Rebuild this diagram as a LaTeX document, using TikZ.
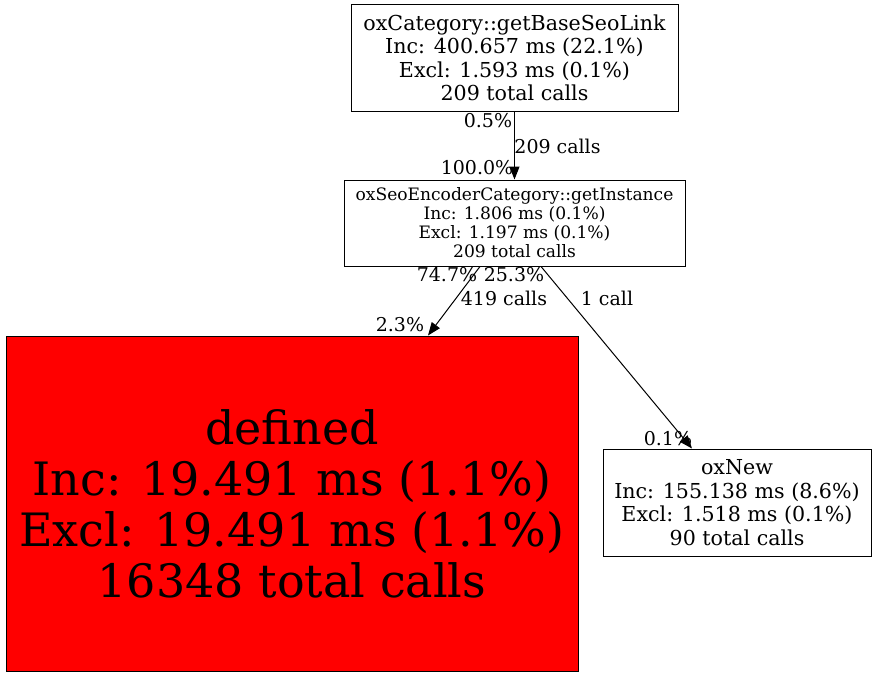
\documentclass[tikz,border=0pt]{standalone}
\usepackage{fontspec}
\newfontfamily\gv{DejaVu Serif}
\usetikzlibrary{arrows.meta}
\tikzset{
  fbox/.style={draw=black, line width=1pt, align=center, inner sep=0pt},
  bigf/.style={font=\gv\fontsize{20.6}{23.5}\selectfont},
  midf/.style={font=\gv\fontsize{17.1}{19}\selectfont},
  hugef/.style={font=\gv\fontsize{46}{51}\selectfont},
  elab/.style={font=\gv\fontsize{19}{23}\selectfont, inner sep=0pt},
  edge/.style={draw=black, line width=1pt, -{Triangle[length=13pt,width=10pt]}}
}
\begin{document}
\begin{tikzpicture}[x=1pt,y=-1pt]
\useasboundingbox (0,0) rectangle (876,677);
\node[fbox, bigf, minimum width=327pt, minimum height=106pt] (top) at (514.5,58)
  {oxCategory::getBaseSeoLink\\Inc: 400.657 ms (22.1\%)\\Excl: 1.593 ms (0.1\%)\\209 total calls};
\node[fbox, midf, minimum width=341pt, minimum height=86pt] (mid) at (514.5,223)
  {oxSeoEncoderCategory::getInstance\\Inc: 1.806 ms (0.1\%)\\Excl: 1.197 ms (0.1\%)\\209 total calls};
\node[fbox, hugef, fill=red, minimum width=572pt, minimum height=335pt] (red) at (292,503.5)
  {defined\\Inc: 19.491 ms (1.1\%)\\Excl: 19.491 ms (1.1\%)\\16348 total calls};
\node[fbox, bigf, minimum width=268pt, minimum height=107pt] (oxnew) at (737,502.5)
  {oxNew\\Inc: 155.138 ms (8.6\%)\\Excl: 1.518 ms (0.1\%)\\90 total calls};
\draw[edge] (top.south) -- (mid.north);
\draw[edge] ([xshift=-34.5pt]mid.south) -- ([xshift=136pt]red.north);
\draw[edge] ([xshift=26.5pt]mid.south) -- ([xshift=-45pt]oxnew.north);
\node[elab] (l1) at (488,121) {0.5\%};
\node[elab] (l2) at (557.5,146) {209 calls};
\node[elab] (l3) at (477,168) {100.0\%};
\node[elab] (l4) at (447,275) {74.7\%};
\node[elab] (l5) at (514,275) {25.3\%};
\node[elab] (l6) at (504,298) {419 calls};
\node[elab] (l7) at (607,298) {1 call};
\node[elab] (l8) at (400,325) {2.3\%};
\node[elab] (l9) at (668,439) {0.1\%};
\end{tikzpicture}
\end{document}
